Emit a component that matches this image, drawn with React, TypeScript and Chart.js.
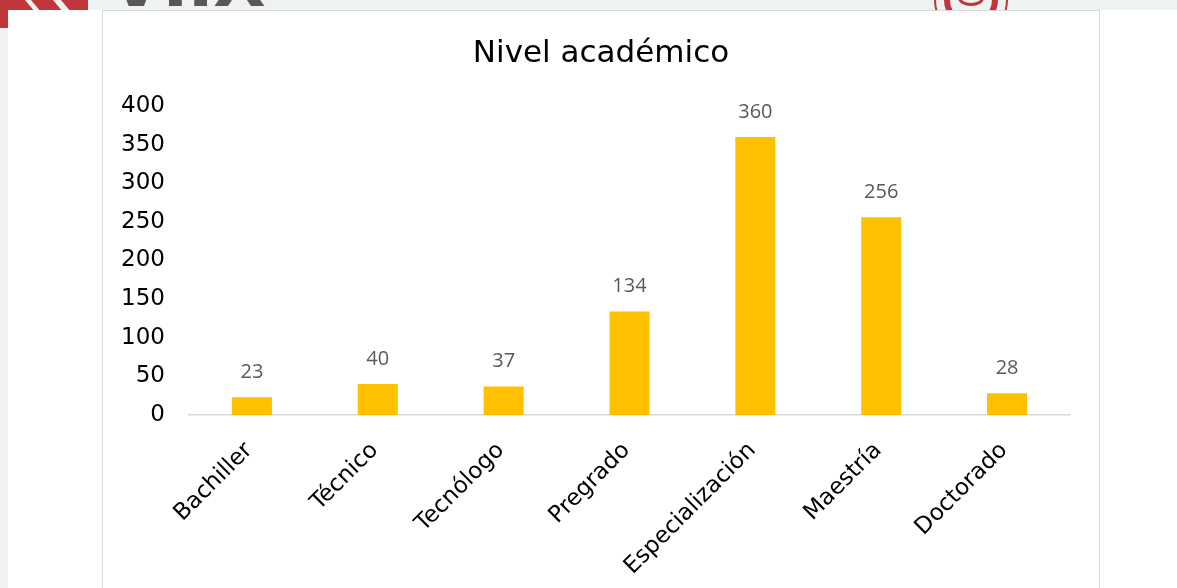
import React, { useEffect, useRef } from "react";
import { Chart, registerables } from "chart.js";

Chart.register(...registerables);

const chartTitle = "Nivel académico";
const categories = ["Bachiller", "Técnico", "Tecnólogo", "Pregrado", "Especialización", "Maestría", "Doctorado"];
const values = [23, 40, 37, 134, 360, 256, 28];
const yMin = 0;
const yMax = 400;
const yStep = 50;

const valueLabels = {
  id: "valueLabels",
  afterDatasetsDraw(chart: any) {
    const ctx = chart.ctx;
    const meta = chart.getDatasetMeta(0);
    ctx.save();
    ctx.font = '20px "Open Sans"';
    ctx.fillStyle = "#595959";
    ctx.textAlign = "center";
    ctx.textBaseline = "alphabetic";
    meta.data.forEach((bar: any, i: number) => {
      ctx.fillText(String(values[i]), bar.x, bar.y - 19);
    });
    ctx.restore();
  },
};

const centeredTitle = {
  id: "centeredTitle",
  afterDraw(chart: any) {
    const ctx = chart.ctx;
    ctx.save();
    ctx.font = '31px "DejaVu Sans"';
    ctx.fillStyle = "#000000";
    ctx.textAlign = "center";
    ctx.textBaseline = "alphabetic";
    ctx.fillText(chartTitle, chart.width / 2, 51);
    ctx.restore();
  },
};

function BarChart() {
  const ref = useRef<HTMLCanvasElement | null>(null);
  useEffect(() => {
    if (!ref.current) return;
    const chart = new Chart(ref.current, {
      type: "bar",
      data: {
        labels: categories,
        datasets: [
          {
            data: values,
            backgroundColor: "#FFC000",
            borderWidth: 0,
            barPercentage: 0.318,
            categoryPercentage: 1,
          },
        ],
      },
      options: {
        responsive: false,
        animation: false,
        devicePixelRatio: 1,
        layout: { padding: { left: 0, right: 29, top: 95, bottom: 0 } },
        plugins: {
          legend: { display: false },
          tooltip: { enabled: false },
          title: { display: false },
        },
        scales: {
          x: {
            grid: { display: false, drawTicks: false },
            border: { display: true, color: "#d9d9d9", width: 1.5 },
            ticks: {
              color: "#000000",
              font: { family: "DejaVu Sans", size: 23 },
              maxRotation: 45,
              minRotation: 45,
              autoSkip: false,
              padding: 22,
              labelOffset: -3,
            },
            afterFit(scale: any) {
              scale.height = 173;
            },
          },
          y: {
            min: yMin,
            max: yMax,
            grid: { display: false, drawTicks: false },
            border: { display: false },
            ticks: {
              stepSize: yStep,
              color: "#000000",
              font: { family: "DejaVu Sans", size: 23 },
              padding: 24,
            },
            afterFit(scale: any) {
              scale.width = 86;
            },
          },
        },
      },
      plugins: [valueLabels, centeredTitle],
    });
    return () => chart.destroy();
  }, []);
  return <canvas ref={ref} width={996} height={577} style={{ width: 996, height: 577, display: "block" }} />;
}

export default function App() {
  return (
    <div style={{ position: "fixed", left: 0, top: 0, width: 1177, height: 588, background: "#ffffff", overflow: "hidden" }}>
      {/* slide background strips */}
      <div style={{ position: "absolute", left: 0, top: 0, width: 1177, height: 10, background: "#eef2f3", overflow: "hidden" }}>
        <div style={{ position: "absolute", left: 0, top: 0, width: 88, height: 10, background: "#c0363a" }} />
        <div style={{ position: "absolute", left: 30, top: -4, width: 6, height: 20, background: "#eef2f3", transform: "skewX(40deg)" }} />
        <div style={{ position: "absolute", left: 58, top: -4, width: 8, height: 20, background: "#eef2f3", transform: "skewX(40deg)" }} />
        <div style={{ position: "absolute", left: 110, top: -52, fontFamily: "DejaVu Sans", fontWeight: "bold", fontSize: 68, color: "#58585a", lineHeight: "70px" }}>VIIX</div>
        <div style={{ position: "absolute", left: 934, top: -37, width: 74, height: 74, borderRadius: "50%", border: "2px solid #c0363a", boxSizing: "border-box" }} />
        <div style={{ position: "absolute", left: 944, top: -27, width: 54, height: 54, borderRadius: "50%", border: "6px solid #c0363a", boxSizing: "border-box" }} />
        <div style={{ position: "absolute", left: 958, top: -10, width: 26, height: 16, borderRadius: "50%", border: "3px solid #c0363a", boxSizing: "border-box" }} />
      </div>
      <div style={{ position: "absolute", left: 0, top: 10, width: 8, height: 578, background: "#eef2f3" }} />
      <div style={{ position: "absolute", left: 0, top: 10, width: 8, height: 18, background: "#c0363a" }} />
      {/* chart frame */}
      <div style={{ position: "absolute", left: 102, top: 10, width: 998, height: 600, border: "1.5px solid #d9d9d9", boxSizing: "border-box", background: "#ffffff" }} />
      <div style={{ position: "absolute", left: 103, top: 11 }}>
        <BarChart />
      </div>
    </div>
  );
}
